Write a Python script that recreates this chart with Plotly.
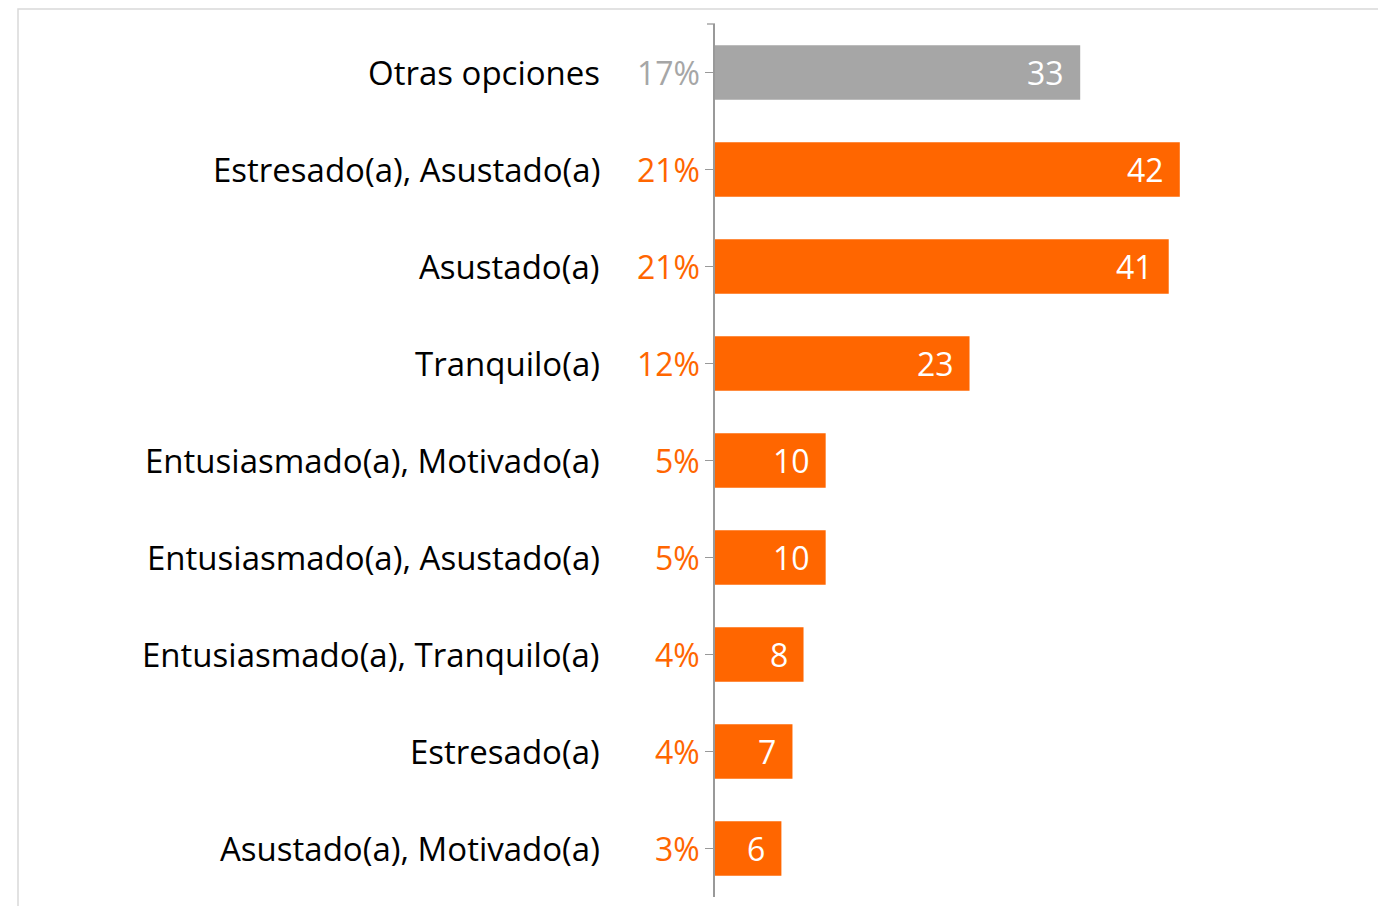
import plotly.graph_objects as go

categories = ["Otras opciones", "Estresado(a), Asustado(a)", "Asustado(a)", "Tranquilo(a)",
              "Entusiasmado(a), Motivado(a)", "Entusiasmado(a), Asustado(a)",
              "Entusiasmado(a), Tranquilo(a)", "Estresado(a)", "Asustado(a), Motivado(a)"]
counts = [33, 42, 41, 23, 10, 10, 8, 7, 6]
percents = ["17%", "21%", "21%", "12%", "5%", "5%", "4%", "4%", "3%"]

ORANGE = "#FF6600"
GRAY = "#A6A6A6"
colors = [GRAY] + [ORANGE] * (len(categories) - 1)
FONT = "Open Sans"
FS = 33

fig = go.Figure()
fig.add_trace(go.Bar(
    x=counts, y=categories, orientation="h",
    marker=dict(color=colors, line=dict(width=0)),
    width=0.56, hoverinfo="skip",
))

annotations = []
for cat, c, p, col in zip(categories, counts, percents, colors):
    annotations.append(dict(x=c, y=cat, xref="x", yref="y", text=str(c), showarrow=False,
                            xanchor="right", xshift=-14, font=dict(family=FONT, size=FS - 1, color="white")))
    annotations.append(dict(x=0, y=cat, xref="x", yref="y", text=p, showarrow=False,
                            xanchor="right", xshift=-13, font=dict(family=FONT, size=FS - 1, color=col)))
    annotations.append(dict(x=0, y=cat, xref="x", yref="y", text=cat, showarrow=False,
                            xanchor="right", xshift=-113, font=dict(family=FONT, size=FS, color="black")))

# plot area: x 707..1371, y 16..889 (figure coords)
fig.update_layout(
    width=1386, height=906,
    margin=dict(l=707, r=15, t=16, b=17),
    paper_bgcolor="white", plot_bgcolor="white",
    showlegend=False, bargap=0.44,
    annotations=annotations,
    xaxis=dict(range=[0, 60], visible=False, fixedrange=True),
    yaxis=dict(categoryorder="array", categoryarray=categories, autorange="reversed",
               showticklabels=False, ticks="outside", ticklen=8, tickcolor="#999999", tickwidth=1.3,
               showline=True, linecolor="#999999", linewidth=1.5, showgrid=False, zeroline=False),
    shapes=[
        dict(type="line", xref="paper", yref="paper", x0=-8/664, x1=0, y0=1, y1=1,
             line=dict(color="#999999", width=1.3)),
        dict(type="rect", xref="paper", yref="paper", x0=-697/664, x1=1.0, y0=-0.03, y1=15/873 + 1,
             line=dict(color="#D9D9D9", width=1.5), fillcolor="rgba(0,0,0,0)", layer="below"),
    ],
)

fig.write_html("out.html")
